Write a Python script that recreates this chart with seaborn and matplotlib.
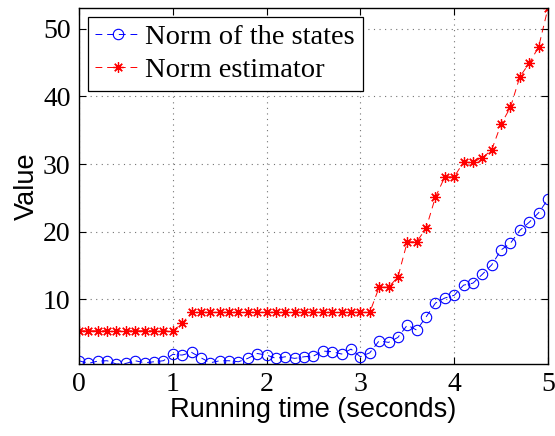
import numpy as np
import pandas as pd
import matplotlib
matplotlib.use("Agg")
import matplotlib.pyplot as plt
import seaborn as sns

# ---- data ----
time_s = np.linspace(0, 5, 51)

norm_states = [0.93, 0.54, 0.88, 0.93, 0.44, 0.54, 0.93, 0.63, 0.78, 0.93,
               1.87, 1.77, 2.17, 1.37, 0.63, 0.93, 0.93, 0.78, 1.28, 2.00,
               1.77, 1.28, 1.52, 1.28, 1.52, 1.62, 2.36, 2.27, 1.92, 2.65,
               1.52, 2.10, 3.88, 3.64, 4.38, 6.20, 5.46, 7.40, 9.45, 10.2,
               10.6, 12.1, 12.4, 13.7, 15.1, 17.3, 18.3, 20.2, 21.4, 22.8, 24.8]

norm_estimator = [5.36, 5.36, 5.36, 5.36, 5.36, 5.36, 5.36, 5.36, 5.36, 5.36,
                  5.36, 6.45, 8.08, 8.08, 8.08, 8.08, 8.08, 8.08, 8.08, 8.08,
                  8.08, 8.08, 8.08, 8.08, 8.08, 8.08, 8.08, 8.08, 8.08, 8.08,
                  8.08, 8.08, 11.8, 11.8, 13.3, 18.5, 18.5, 20.5, 25.1, 28.1,
                  28.1, 30.3, 30.3, 30.9, 32.1, 35.9, 38.4, 42.9, 44.9, 47.3, 53.06]

labels = ["Norm of the states", "Norm estimator"]
y_ticks = [10, 20, 30, 40, 50]
x_ticks = [0, 1, 2, 3, 4, 5]

df = pd.DataFrame({"t": time_s, "states": norm_states, "est": norm_estimator})

# ---- style ----
sns.set_style("ticks")
plt.rcParams["font.family"] = ["Liberation Serif", "DejaVu Serif"]
plt.rcParams["xtick.direction"] = "in"
plt.rcParams["ytick.direction"] = "in"
plt.rcParams["text.color"] = "black"
plt.rcParams["axes.labelcolor"] = "black"
plt.rcParams["xtick.color"] = "black"
plt.rcParams["ytick.color"] = "black"

fig = plt.figure(figsize=(5.55, 4.36), dpi=100)
ax = fig.add_axes([0.1423, 0.165, 0.8451, 0.8167])

dash = (0, (7, 5))
sns.lineplot(data=df, x="t", y="states", ax=ax, color="blue", linestyle=dash,
             linewidth=0.7, marker="o", markersize=7.5, markerfacecolor="none",
             markeredgecolor="blue", markeredgewidth=0.8, label=labels[0])
sns.lineplot(data=df, x="t", y="est", ax=ax, color="red", linestyle=dash,
             linewidth=0.7, marker=(8, 2, 0), markersize=7.5, markeredgecolor="red",
             markeredgewidth=0.9, label=labels[1])

ax.set_xlim(0, 5)
ax.set_ylim(min(norm_states), max(norm_estimator))
ax.set_xticks(x_ticks)
ax.set_yticks(y_ticks)
ax.tick_params(labelsize=20, length=5, width=0.8, top=True, right=True, pad=6)
ax.grid(True, color="0.45", linestyle=(0, (1, 4)), linewidth=0.8)
for sp in ax.spines.values():
    sp.set_visible(True)
    sp.set_color("black")
    sp.set_linewidth(1.0)

ax.set_xlabel("Running time (seconds)", family=["Liberation Sans", "DejaVu Sans"],
              fontsize=19.5, labelpad=0)
ax.set_ylabel("Value", family=["Liberation Sans", "DejaVu Sans"],
              fontsize=19.5, labelpad=2)

leg = ax.legend(loc="upper left", fontsize=20.5, fancybox=False, framealpha=1,
                edgecolor="black", handlelength=1.6, handletextpad=0.15,
                borderpad=0.28, labelspacing=0.22, borderaxespad=0.3)
leg.get_frame().set_linewidth(0.9)

fig.savefig("out.png", dpi=100)
